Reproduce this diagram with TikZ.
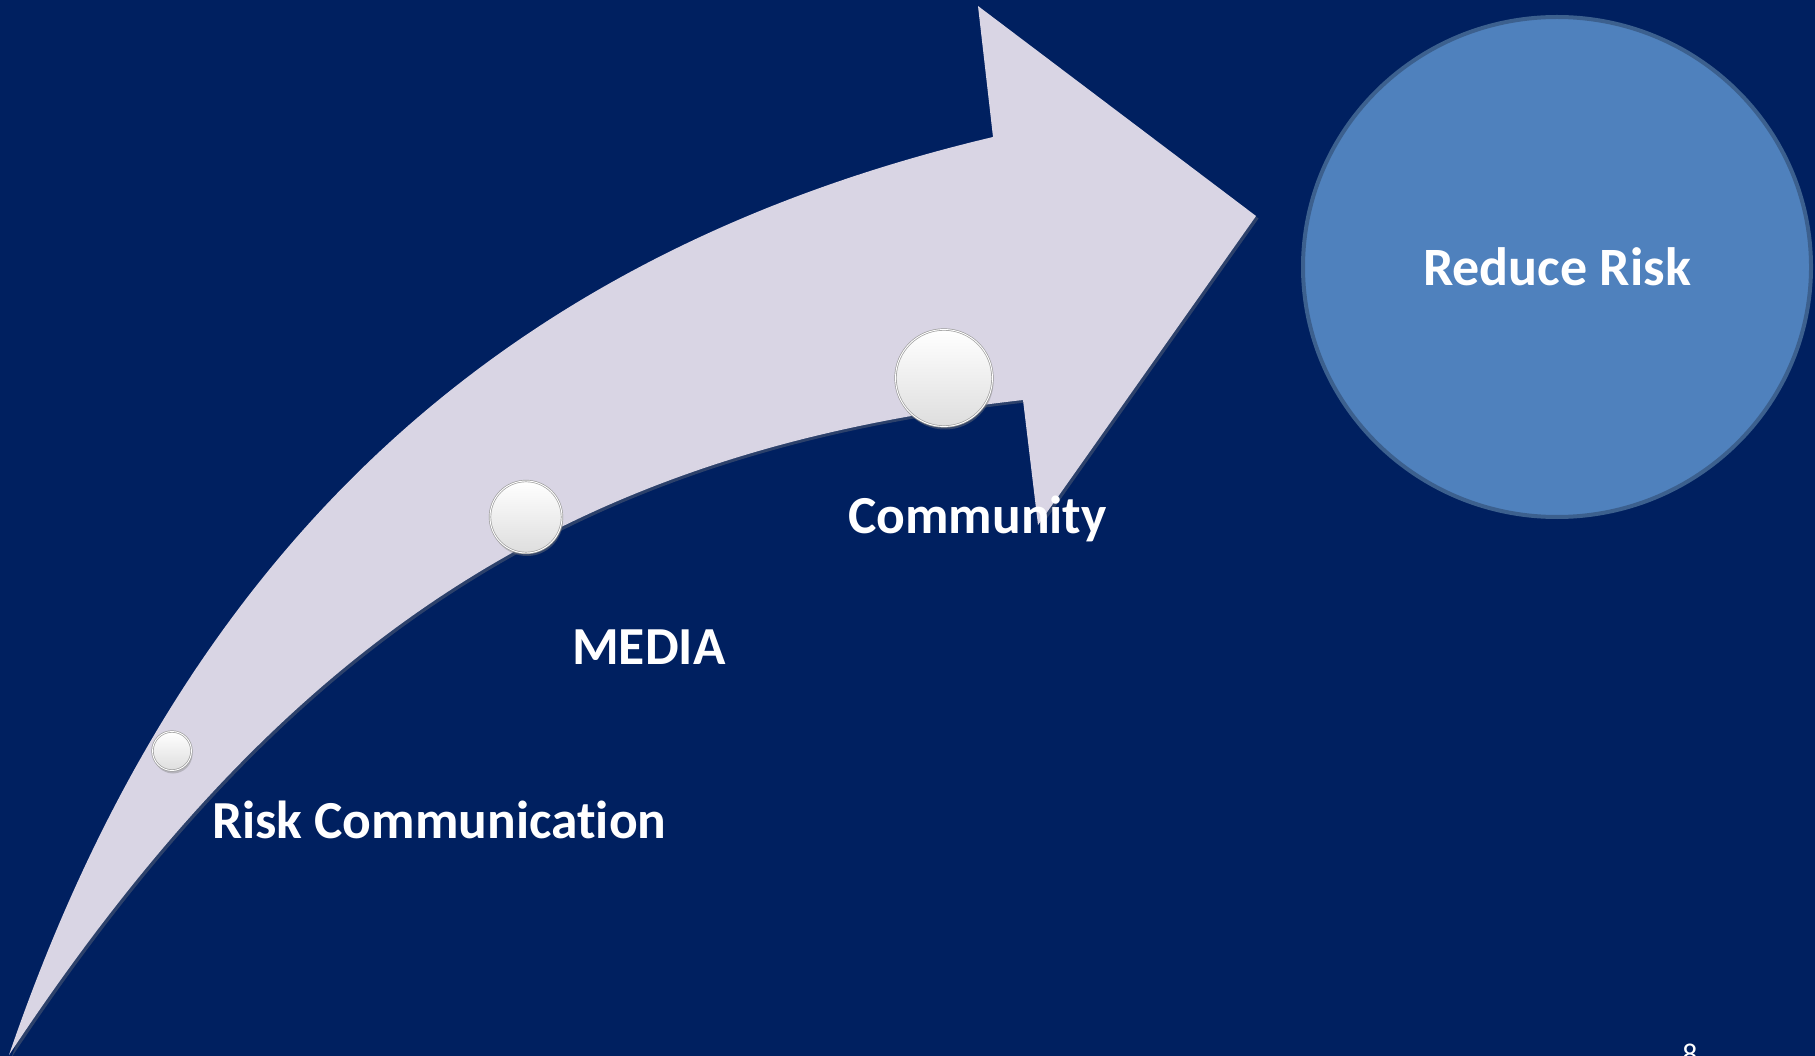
\documentclass[tikz,border=0pt]{standalone}
\usepackage{fontspec}
\setmainfont{Carlito}[Ligatures=NoCommon]
\usetikzlibrary{shadows,shapes.geometric}
\definecolor{navy}{RGB}{0,32,96}
\definecolor{arrowfill}{RGB}{217,213,228}
\definecolor{goalfill}{RGB}{79,129,189}
\definecolor{goaldraw}{RGB}{60,96,142}
\begin{document}
\begin{tikzpicture}[x=1pt,y=-1pt,
  lbl/.style={text=white, font=\fontsize{53.5}{60}\selectfont\bfseries, inner sep=0pt, anchor=base west},
  pearl/.style={circle, top color=white, middle color=black!4, bottom color=black!13,
    draw=black!38, double=white, double distance=0.9pt, line width=0.7pt,
    inner sep=0pt, minimum size=#1,
    drop shadow={opacity=0.4, shadow xshift=1pt, shadow yshift=-3pt}},
  goal/.style={ellipse, fill=goalfill, draw=goaldraw, line width=4pt, inner sep=0pt,
    text=white, font=\fontsize{54}{60}\selectfont\bfseries}
]
\fill[navy] (0,0) rectangle (1815,1056);
\useasboundingbox (0,0) rectangle (1815,1056);
% curved arrow
\fill[arrowfill, drop shadow={opacity=0.35, shadow xshift=2.5pt, shadow yshift=-2.5pt}]
  (9,1055) .. controls (180,555) and (495,255) .. (993,137)
  -- (978,6) -- (1256,216) -- (1038,525) -- (1023,400)
  .. controls (580,450) and (290,630) .. (9,1055) -- cycle;
% pearls
\node[pearl=39pt] (b1) at (172,751) {};
\node[pearl=72pt] (b2) at (526,517) {};
\node[pearl=97pt] (b3) at (944,378) {};
% labels
\node[lbl] (t1) at (212,838) {Risk Communication};
\node[lbl] (t2) at (572,664) {MEDIA};
\node[lbl] (t3) at (848,533) {Community};
% goal
\node[goal, minimum width=508pt, minimum height=500pt] (goal) at (1557,267) {Reduce Risk};
% page number
\node[text=white, font=\fontsize{30}{36}\selectfont, inner sep=0pt, anchor=base] (pg) at (1690,1064) {8};
\end{tikzpicture}
\end{document}
